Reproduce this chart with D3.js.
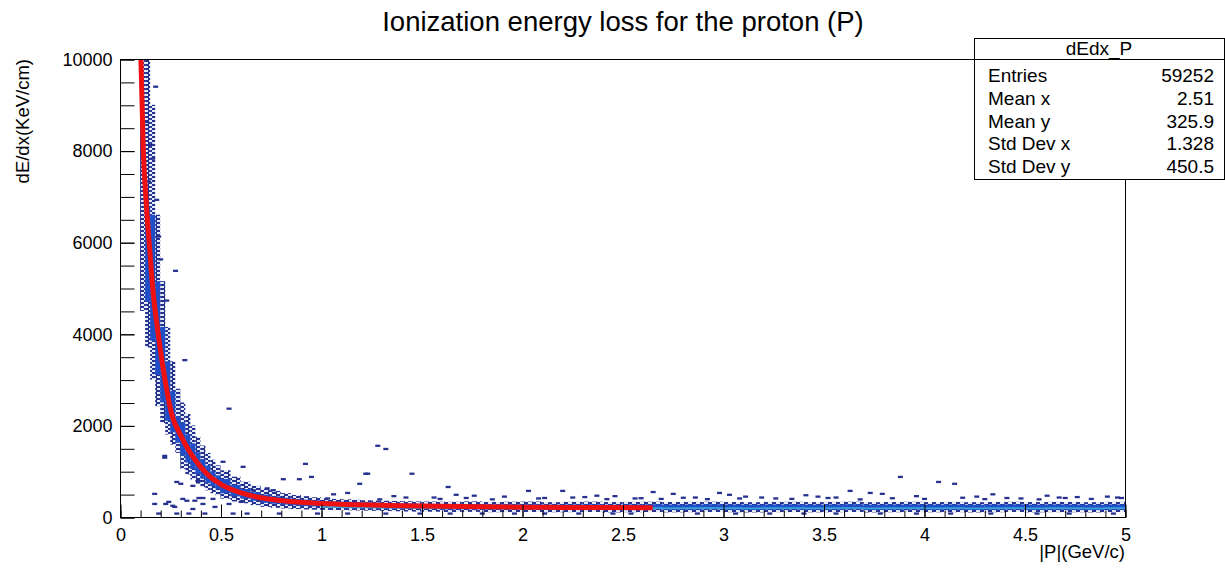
<!DOCTYPE html>
<html>
<head>
<meta charset="utf-8">
<script src="https://cdnjs.cloudflare.com/ajax/libs/d3/7.8.5/d3.min.js"></script>
<style>
body { margin: 0; background: #fff; }
text { font-family: "Liberation Sans", Arial, sans-serif; fill: #000; }
</style>
</head>
<body>
<div id="corpo"></div>
<script>
var title = "Ionization energy loss for the proton (P)";
var xTitle = "|P|(GeV/c)";
var yTitle = "dE/dx(KeV/cm)";
var xTicks = [0, 0.5, 1, 1.5, 2, 2.5, 3, 3.5, 4, 4.5, 5];
var yTicks = [0, 2000, 4000, 6000, 8000, 10000];

var statsName = "dEdx_P";
var statsLabels = ["Entries", "Mean x", "Mean y", "Std Dev x", "Std Dev y"];
var statsValues = ["59252", "2.51", "325.9", "1.328", "450.5"];

// red fit line
var fitP = [0.104, 0.116, 0.13, 0.145, 0.165, 0.19, 0.22, 0.26, 0.30, 0.35, 0.40, 0.45, 0.5, 0.6, 0.7, 0.8, 0.9, 1.0, 1.2, 1.4, 1.6, 1.8, 2.0, 2.2, 2.4, 2.65];
var fitV = [10000, 8000, 6900, 6000, 4900, 4000, 3100, 2200, 1800, 1400, 1100, 870, 720, 530, 420, 360, 320, 295, 265, 245, 232, 222, 215, 210, 205, 200];

// histogram band: column edges (n+1) and dE/dx limits per column
var bandP = [0.100, 0.125, 0.150, 0.175, 0.200, 0.225, 0.250, 0.275, 0.300, 0.325, 0.350, 0.375, 0.400, 0.425, 0.450, 0.475,
  0.50, 0.55, 0.60, 0.65, 0.70, 0.75, 0.80, 0.85, 0.90, 0.95, 1.00, 1.05, 1.10, 1.15, 1.20, 1.25, 1.30, 1.35, 1.40, 1.45,
  1.5, 1.6, 1.7, 1.8, 1.9, 2.0, 2.1, 2.2, 2.3, 2.4, 2.5, 2.6, 2.7, 2.8, 2.9, 3.0, 3.1, 3.2, 3.3, 3.4, 3.5, 3.6, 3.7, 3.8, 3.9,
  4.0, 4.1, 4.2, 4.3, 4.4, 4.5, 4.6, 4.7, 4.8, 4.9, 5.0];
var haloLo = [4500, 3700, 3000, 2420, 2050, 1800, 1580, 1400, 1050, 930, 820, 730, 650, 580, 520, 470,
  400, 340, 300, 260, 220, 200, 185, 175, 165, 160, 155, 150, 146, 142, 138, 134, 130, 125, 120, 118,
  115, 110, 112, 105, 108, 110, 104, 106, 110, 100, 105, 108, 102, 106, 110, 104, 100, 106, 108, 102, 105, 110, 100, 104, 108,
  103, 106, 100, 105, 110, 102, 106, 104, 100, 108];
var coreLo = [6500, 4700, 3850, 3100, 2500, 2100, 1850, 1620, 1335, 1190, 1045, 935, 835, 740, 670, 610,
  520, 450, 400, 355, 310, 290, 270, 255, 240, 230, 225, 215, 210, 205, 200, 195, 190, 185, 180, 178,
  170, 165, 168, 160, 162, 165, 158, 160, 163, 155, 160, 162, 156, 158, 162, 157, 154, 158, 160, 155, 158, 162, 154, 157, 160,
  155, 158, 153, 157, 160, 154, 158, 156, 152, 158];
var coreHi = [6500, 6800, 6600, 5150, 4150, 3400, 2750, 2200, 2070, 1805, 1610, 1415, 1265, 1125, 1000, 910,
  830, 700, 610, 540, 490, 450, 420, 395, 380, 365, 350, 340, 335, 325, 320, 315, 305, 300, 295, 290,
  285, 280, 282, 275, 278, 280, 272, 276, 279, 270, 275, 278, 272, 274, 278, 273, 270, 274, 276, 271, 274, 278, 270, 273, 276,
  271, 274, 269, 273, 276, 270, 274, 272, 268, 274];
var haloHi = [10000, 10000, 9000, 6600, 5150, 4150, 3400, 2800, 2500, 2250, 2000, 1750, 1560, 1400, 1250, 1130,
  1020, 880, 770, 680, 620, 570, 520, 480, 455, 430, 410, 395, 385, 375, 365, 360, 355, 350, 345, 340,
  338, 332, 342, 328, 334, 338, 324, 330, 336, 326, 330, 334, 328, 330, 334, 328, 324, 330, 332, 326, 330, 334, 324, 328, 332,
  326, 330, 324, 328, 332, 326, 330, 328, 324, 330];
var peakLo = [null, null, null, null, null, null, null, null, null, null, null, null, null, null, null, null,
  null, null, null, null, null, null, null, null, null, null, 200, 195, 192, 190, 188, 186, 185, 184, 182, 180,
  178, 176, 178, 174, 176, 178, 172, 175, 177, 171, 174, 176, 172, 174, 177, 173, 170, 174, 176, 171, 174, 177, 170, 173, 176,
  171, 174, 169, 173, 176, 170, 174, 172, 168, 174];
var peakHi = [null, null, null, null, null, null, null, null, null, null, null, null, null, null, null, null,
  null, null, null, null, null, null, null, null, null, null, 255, 250, 245, 240, 236, 232, 230, 228, 225, 222,
  218, 215, 217, 212, 214, 216, 210, 213, 215, 209, 212, 214, 210, 212, 215, 211, 208, 212, 214, 209, 212, 215, 208, 211, 214,
  209, 212, 207, 211, 214, 208, 212, 210, 206, 212];

// isolated filled bins
var scatterP = [0.165, 0.264, 0.31, 0.21, 0.29, 0.53, 0.16, 0.16, 0.23, 0.25, 0.30, 0.36, 0.40, 0.45, 0.215, 0.26, 0.32, 0.35,
  0.38, 0.38, 0.40, 0.46, 0.53, 0.59, 0.27, 0.21, 0.35, 0.50, 0.60, 0.80, 0.88, 0.94, 1.21, 1.31, 1.27, 1.44, 0.91, 1.22, 1.18,
  1.62, 2.02, 2.19, 2.64, 2.74, 2.97, 3.62, 3.72, 3.78, 3.87, 4.06, 4.14, 0.65, 0.72, 1.05, 1.35, 1.55, 1.75, 1.9, 2.1, 2.3,
  2.45, 2.55, 2.85, 3.1, 3.25, 3.4, 3.55, 3.95, 4.25, 4.4, 4.6, 4.75, 4.9, 4.97, 1.12, 1.66, 2.36, 3.02, 3.46, 4.33, 4.66,
  0.13, 0.14, 0.15, 0.17, 0.18, 0.12, 0.19, 0.22, 1.02, 1.28, 1.41, 1.58, 1.71, 1.84, 2.07, 2.24, 2.41, 2.58, 2.68, 2.79,
  2.91, 3.07, 3.18, 3.33, 3.51, 3.67, 3.83, 3.99, 4.18, 4.29, 4.47, 4.56, 4.69, 4.82, 4.95, 0.68, 0.84, 0.75];
var scatterV = [9370, 5350, 3400, 1270, 700, 2340, 480, 260, 305, 220, 370, 330, 390, 370, 260, 195, 330, 150,
  390, 760, 260, 195, 260, 305, 740, 1310, 655, 1180, 1070, 800, 800, 850, 920, 1460, 1530, 920, 1135, 920, 700,
  630, 545, 545, 520, 480, 500, 545, 500, 480, 850, 740, 700, 560, 600, 470, 430, 400, 440, 420, 390, 410,
  430, 380, 400, 420, 380, 450, 400, 430, 420, 390, 440, 410, 420, 390, 500, 460, 440, 460, 420, 470, 400,
  7300, 8100, 7800, 6900, 6100, 8600, 5600, 4700, 380, 360, 400, 370, 390, 360, 380, 400, 365, 385, 370, 395,
  365, 380, 400, 370, 390, 360, 385, 370, 395, 365, 380, 360, 390, 370, 400, 350, 330, 560];
var bottomP = [0.18, 0.27, 0.33, 0.41, 0.55, 0.62, 0.78, 0.97, 1.12, 1.31, 1.48, 1.63, 1.79, 1.95, 2.1, 2.27, 2.44, 2.53,
  2.86, 3.05, 3.22, 3.39, 3.55, 3.77, 3.95, 4.12, 4.32, 4.55, 4.71, 4.93];

var width = 1225, height = 568;
var margin = {left: 120, right: 100, top: 59, bottom: 51};
var x = d3.scaleLinear().domain([0, 5]).range([margin.left, width - margin.right]);
var y = d3.scaleLinear().domain([0, 10000]).range([height - margin.bottom, margin.top]);

var navy = "#26318f", blue = "#1f4ec6", cyan = "#3aa3da";

var svg = d3.select("#corpo").append("svg")
    .attr("width", width)
    .attr("height", height);

var defs = svg.append("defs");
defs.append("clipPath").attr("id", "frame")
    .append("rect")
    .attr("x", x(0)).attr("y", y(10000))
    .attr("width", x(5) - x(0)).attr("height", y(0) - y(10000));

// sparse bins: short horizontal dashes
var pat = defs.append("pattern")
    .attr("id", "sparse")
    .attr("patternUnits", "userSpaceOnUse")
    .attr("width", 8).attr("height", 4);
pat.append("rect").attr("width", 8).attr("height", 4).attr("fill", "#e4ebf8");
pat.append("rect").attr("x", 0).attr("y", 0).attr("width", 5).attr("height", 2).attr("fill", navy);
pat.append("rect").attr("x", 4).attr("y", 2).attr("width", 4).attr("height", 2).attr("fill", navy);

var plot = svg.append("g").attr("clip-path", "url(#frame)");

var cols = d3.range(bandP.length - 1);

plot.selectAll(".halo")
    .data(cols)
    .enter().append("rect")
    .attr("class", "halo")
    .attr("x", function(i) { return x(bandP[i]); })
    .attr("width", function(i) { return x(bandP[i + 1]) - x(bandP[i]); })
    .attr("y", function(i) { return y(haloHi[i]); })
    .attr("height", function(i) { return y(haloLo[i]) - y(haloHi[i]); })
    .style("fill", "url(#sparse)");

plot.selectAll(".core")
    .data(cols.filter(function(i) { return coreHi[i] > coreLo[i]; }))
    .enter().append("rect")
    .attr("class", "core")
    .attr("x", function(i) { return x(bandP[i]); })
    .attr("width", function(i) { return x(bandP[i + 1]) - x(bandP[i]); })
    .attr("y", function(i) { return y(coreHi[i]); })
    .attr("height", function(i) { return y(coreLo[i]) - y(coreHi[i]); })
    .style("fill", blue);

plot.selectAll(".peak")
    .data(cols.filter(function(i) { return peakLo[i] != null; }))
    .enter().append("rect")
    .attr("class", "peak")
    .attr("x", function(i) { return x(bandP[i]); })
    .attr("width", function(i) { return x(bandP[i + 1]) - x(bandP[i]); })
    .attr("y", function(i) { return y(peakHi[i]); })
    .attr("height", function(i) { return y(peakLo[i]) - y(peakHi[i]); })
    .style("fill", cyan);

var binW = 0.025, binH = 50;
plot.selectAll(".dot")
    .data(scatterP)
    .enter().append("rect")
    .attr("class", "dot")
    .attr("x", function(d) { return x(d); })
    .attr("width", x(binW) - x(0))
    .attr("y", function(d, i) { return y(scatterV[i] + binH); })
    .attr("height", y(0) - y(binH))
    .style("fill", navy);

plot.selectAll(".bot")
    .data(bottomP)
    .enter().append("rect")
    .attr("class", "bot")
    .attr("x", function(d) { return x(d); })
    .attr("width", x(binW) - x(0))
    .attr("y", y(binH * 2))
    .attr("height", y(0) - y(binH))
    .style("fill", navy);

var line = d3.line()
    .x(function(d) { return x(d); })
    .y(function(d, i) { return y(fitV[i]); })
    .curve(d3.curveMonotoneX);

plot.append("path")
    .attr("d", line(fitP))
    .style("fill", "none")
    .style("stroke", "#ee1111")
    .style("stroke-width", 5);

// frame
svg.append("rect")
    .attr("x", x(0) + 0.5).attr("y", y(10000) + 0.5)
    .attr("width", x(5) - x(0)).attr("height", y(0) - y(10000))
    .style("fill", "none").style("stroke", "#000").style("stroke-width", 1);

// axes
svg.append("g")
    .attr("transform", "translate(0.5," + (y(0) + 0.5) + ")")
    .call(d3.axisBottom(x).tickValues(xTicks).tickSize(-13).tickPadding(11)
        .tickFormat(function(d) { return d; }));
svg.append("g")
    .attr("transform", "translate(0.5," + (y(0) + 0.5) + ")")
    .call(d3.axisBottom(x).tickValues(d3.range(0, 5.001, 0.1)).tickSize(-7).tickFormat(""));

svg.append("g")
    .attr("transform", "translate(" + (x(0) + 0.5) + ",0.5)")
    .call(d3.axisLeft(y).tickValues(yTicks).tickSize(-14).tickPadding(8)
        .tickFormat(function(d) { return d; }));
svg.append("g")
    .attr("transform", "translate(" + (x(0) + 0.5) + ",0.5)")
    .call(d3.axisLeft(y).tickValues(d3.range(0, 10001, 500)).tickSize(-14).tickFormat(""));

svg.selectAll(".domain").remove();
svg.selectAll(".tick line").style("stroke", "#000");
svg.selectAll(".tick text")
    .style("font-size", "18px")
    .style("font-family", "Liberation Sans, Arial, sans-serif");

// titles
svg.append("text")
    .attr("x", 623).attr("y", 31)
    .attr("text-anchor", "middle")
    .style("font-size", "27.5px")
    .text(title);

svg.append("text")
    .attr("x", x(5)).attr("y", 558)
    .attr("text-anchor", "end")
    .style("font-size", "18.5px")
    .text(xTitle);

svg.append("text")
    .attr("transform", "translate(29," + y(10000) + ") rotate(-90)")
    .attr("text-anchor", "end")
    .style("font-size", "18.5px")
    .text(yTitle);

// stats box
var box = svg.append("g");
box.append("rect")
    .attr("x", 974.5).attr("y", 38.5)
    .attr("width", 250).attr("height", 141)
    .style("fill", "#fff").style("stroke", "#000");
box.append("line")
    .attr("x1", 974.5).attr("x2", 1224.5)
    .attr("y1", 59.5).attr("y2", 59.5)
    .style("stroke", "#000");
box.append("text")
    .attr("x", 1099).attr("y", 55)
    .attr("text-anchor", "middle")
    .style("font-size", "19px")
    .text(statsName);
statsLabels.forEach(function(l, i) {
    box.append("text")
        .attr("x", 988).attr("y", 82 + i * 22.8)
        .style("font-size", "19px")
        .text(l);
    box.append("text")
        .attr("x", 1214).attr("y", 82 + i * 22.8)
        .attr("text-anchor", "end")
        .style("font-size", "19px")
        .text(statsValues[i]);
});
</script>
</body>
</html>
